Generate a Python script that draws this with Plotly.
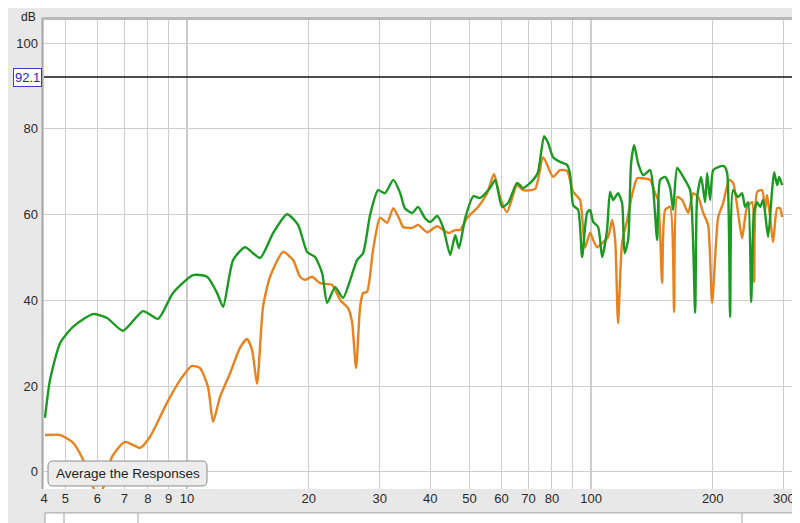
#Frequency response plot of two measurements (REW style)
#Values read off the original screenshot
import plotly.graph_objects as go

#Green measurement - frequency (Hz) and level (dB)
freq_green = [4.45, 4.58, 4.85, 5.22, 5.85, 6.34, 6.94, 7.78, 8.48, 9.23,
              10.35, 11.21, 11.87, 12.28, 13.0, 13.92, 15.16, 16.33, 17.68, 18.83,
              19.82, 20.74, 21.59, 22.22, 23.25, 24.33, 26.35, 27.27, 28.38, 29.7,
              30.9, 32.4, 33.7, 34.6, 36.1, 37.3, 38.8, 40.0, 41.6, 43.0,
              44.8, 46.1, 47.1, 48.8, 51.1, 53.1, 56.2, 57.9, 60.2, 62.3,
              65.6, 67.9, 71.9, 73.9, 76.5, 78.3, 80.5, 83.8, 87.2, 88.7,
              90.3, 92.9, 95.0, 97.7, 99.4, 101.2, 104.1, 106.5, 109.5, 111.4,
              113.4, 116.6, 119.3, 121.0, 123.5, 125.6, 127.8, 130.7, 134.5, 140.0,
              142.4, 145.7, 148.2, 152.5, 156.9, 159.6, 163.3, 169.0, 175.8, 180.9,
              183.0, 187.2, 191.5, 193.7, 197.0, 200.5, 206.3, 213.4, 217.1, 220.8,
              224.6, 231.1, 236.4, 240.5, 244.7, 249.0, 253.0, 257.6, 262.0, 266.5,
              274.2, 280.5, 283.8, 288.7, 292.0, 297.0]
spl_green = [12.6, 21.4, 30.0, 33.8, 36.8, 35.9, 32.9, 37.5, 35.7, 41.7,
             45.9, 45.5, 41.7, 38.5, 49.4, 52.4, 49.9, 55.7, 60.1, 57.6,
             51.3, 50.1, 46.4, 39.4, 43.1, 40.6, 49.4, 51.0, 59.9, 65.7,
             65.0, 68.1, 65.0, 61.5, 60.4, 61.8, 59.2, 58.3, 59.7, 57.1,
             50.6, 55.2, 52.2, 59.2, 64.3, 63.9, 66.2, 68.1, 61.8, 62.7,
             67.4, 66.2, 68.1, 69.9, 78.3, 76.7, 73.4, 72.3, 71.6, 69.5,
             62.2, 61.1, 50.1, 60.4, 61.1, 58.3, 57.1, 50.1, 56.4, 65.3,
             63.4, 65.0, 62.7, 51.0, 54.1, 72.0, 76.2, 72.0, 69.2, 70.4,
             66.2, 54.1, 68.1, 68.8, 66.2, 61.1, 70.9, 68.8, 65.7, 37.1,
             64.1, 68.8, 62.9, 69.7, 63.4, 70.4, 71.1, 71.3, 69.7, 36.1,
             65.7, 64.1, 65.0, 61.8, 62.9, 39.6, 60.4, 62.9, 61.8, 63.4,
             54.8, 65.7, 69.9, 66.9, 68.8, 66.9]

#Orange measurement
freq_orange = [4.45, 4.85, 5.22, 5.53, 5.75, 6.02, 6.27, 6.52, 7.02, 7.65,
               8.10, 8.92, 9.61, 10.29, 10.77, 11.27, 11.6, 12.07, 12.78, 13.53,
               14.08, 14.49, 14.9, 15.42, 16.05, 17.29, 18.30, 19.04, 19.6, 20.39,
               21.34, 22.86, 23.92, 25.03, 25.6, 26.2, 26.81, 27.27, 27.9, 28.86,
               30.04, 31.26, 32.4, 33.7, 34.25, 36.1, 37.3, 39.3, 41.6, 44.3,
               46.1, 47.4, 49.3, 52.5, 55.3, 57.5, 59.5, 61.9, 65.6, 67.9,
               72.7, 76.1, 80.5, 83.8, 87.2, 90.3, 93.9, 96.6, 99.4, 101.2,
               103.5, 107.1, 110.2, 112.7, 114.7, 116.6, 119.3, 122.8, 126.3, 130.0,
               133.7, 140.0, 144.0, 146.5, 149.9, 152.5, 156.9, 160.5, 163.3, 168.0,
               173.9, 178.9, 184.1, 189.4, 194.8, 199.3, 206.3, 212.2, 219.6, 224.6,
               231.1, 236.4, 243.3, 250.3, 253.2, 257.6, 265.0, 269.6, 272.7, 277.4,
               282.1, 288.7, 293.6, 297.0]
spl_orange = [8.6, 8.6, 6.8, 2.8, -1.5, -6.0, -2.5, 3.5, 7.0, 5.6,
              8.2, 16.1, 21.4, 24.7, 24.2, 19.8, 11.7, 17.5, 23.0, 29.0,
              31.0, 28.4, 20.5, 38.5, 45.5, 51.3, 49.4, 45.5, 44.8, 45.5,
              44.0, 43.6, 40.1, 38.2, 35.0, 24.2, 38.5, 41.7, 42.0, 51.7,
              59.3, 58.1, 61.5, 58.5, 57.1, 56.9, 57.6, 55.9, 57.3, 55.7,
              56.4, 56.4, 59.2, 61.8, 65.0, 69.5, 64.1, 60.6, 66.9, 65.7,
              66.0, 73.4, 68.8, 70.4, 70.2, 65.3, 63.4, 52.3, 55.8, 54.1,
              52.4, 53.6, 54.8, 58.7, 54.1, 34.7, 53.4, 58.7, 64.6, 68.5,
              68.5, 68.1, 65.0, 63.4, 44.1, 61.1, 61.8, 37.3, 64.1, 63.4,
              60.4, 65.0, 64.1, 60.4, 57.6, 39.4, 59.4, 62.7, 68.1, 67.4,
              60.4, 54.5, 61.8, 62.9, 44.3, 65.3, 65.7, 61.1, 64.6, 59.4,
              53.6, 61.5, 61.5, 59.4]

#Axis ticks
x_ticks = [4.43, 5, 6, 7, 8, 9, 10, 20, 30, 40, 50, 60, 70, 80, 100, 200, 300]
x_labels = ["4", "5", "6", "7", "8", "9", "10", "20", "30", "40", "50", "60",
            "70", "80", "100", "200", "300"]
y_ticks = [0, 20, 40, 60, 80, 100]
ref_level = 92.1

FONT = "Liberation Sans"

fig = go.Figure()
fig.add_trace(go.Scatter(x=freq_orange, y=spl_orange, mode="lines",
                         line=dict(color="#e8821e", width=2.4, shape="spline", smoothing=0.6)))
fig.add_trace(go.Scatter(x=freq_green, y=spl_green, mode="lines",
                         line=dict(color="#1b9a22", width=2.4, shape="spline", smoothing=0.6)))

#darker decade lines at 10 and 100
for f in [10, 100]:
    fig.add_shape(type="line", xref="x", yref="paper", x0=f, x1=f, y0=0, y1=1,
                  line=dict(color="#9a9a9a", width=1.2), layer="below")

#reference level line
fig.add_shape(type="line", xref="paper", yref="y", x0=0, x1=1, y0=ref_level, y1=ref_level,
              line=dict(color="#111111", width=1.5))
fig.add_annotation(xref="paper", yref="y", x=-0.002, y=ref_level, text="92.1",
                   showarrow=False, xanchor="right", yanchor="middle",
                   font=dict(family=FONT, size=13, color="#2424c8"),
                   bgcolor="white", bordercolor="#3a3ad0", borderwidth=1, borderpad=1)

#dB unit label
fig.add_annotation(xref="paper", yref="paper", x=-0.021, y=1.0064, text="dB",
                   showarrow=False, xanchor="center", yanchor="middle",
                   font=dict(family=FONT, size=12, color="#222222"))

#plot border shadow (top and left)
fig.add_shape(type="line", xref="paper", yref="paper", x0=0, x1=1, y0=1.003, y1=1.003,
              line=dict(color="#b8b8b8", width=3))
fig.add_shape(type="line", xref="paper", yref="paper", x0=-0.002, x1=-0.002, y0=0, y1=1.006,
              line=dict(color="#a8a8a8", width=2))

#"Average the Responses" button (rounded box)
bx0, bx1 = 0.0053, 0.2156
by0, by1 = 0.0064, 0.0597
rx, ry = 0.0066, 0.0107
button_path = (f"M {bx0+rx},{by0} L {bx1-rx},{by0} Q {bx1},{by0} {bx1},{by0+ry} "
               f"L {bx1},{by1-ry} Q {bx1},{by1} {bx1-rx},{by1} "
               f"L {bx0+rx},{by1} Q {bx0},{by1} {bx0},{by1-ry} "
               f"L {bx0},{by0+ry} Q {bx0},{by0} {bx0+rx},{by0} Z")
fig.add_shape(type="path", xref="paper", yref="paper", path=button_path,
              fillcolor="#ededed", line=dict(color="#8c8c8c", width=1))
fig.add_annotation(xref="paper", yref="paper", x=(bx0+bx1)/2, y=(by0+by1)/2,
                   xanchor="center", yanchor="middle",
                   text="Average the Responses", showarrow=False,
                   font=dict(family=FONT, size=13.5, color="#1e1e1e"))

#scrollbar under the axis labels
fig.add_shape(type="rect", xref="paper", yref="paper", x0=0.0013, x1=1.0, y0=-0.075, y1=-0.051,
              fillcolor="white", line=dict(color="#a0a0a0", width=1))
for px in [64, 138, 742]:
    fig.add_shape(type="line", xref="paper", yref="paper", x0=(px-44)/756, x1=(px-44)/756,
                  y0=-0.075, y1=-0.051, line=dict(color="#a0a0a0", width=1))

fig.update_xaxes(type="log", range=[0.646, 2.517],
                 tickmode="array", tickvals=x_ticks, ticktext=x_labels,
                 showgrid=True, gridcolor="#cfcfcf", gridwidth=1,
                 minor=dict(tickmode="array", tickvals=[90], showgrid=True,
                            gridcolor="#cfcfcf", gridwidth=1, ticks=""),
                 ticks="", zeroline=False, showline=False,
                 tickfont=dict(family=FONT, size=13, color="#2a2a2a"))
fig.update_yaxes(range=[-4.0, 105.4], tickmode="array", tickvals=y_ticks,
                 showgrid=True, gridcolor="#cfcfcf", gridwidth=1,
                 ticks="", zeroline=False, showline=False, ticklabelstandoff=5,
                 tickfont=dict(family=FONT, size=13, color="#2a2a2a"))

#the page body adds an 8px margin, so the figure is shrunk by that much
fig.update_layout(width=792, height=515, showlegend=False,
                  margin=dict(l=36, r=0, t=12, b=34),
                  paper_bgcolor="#e8e8e8", plot_bgcolor="white")

fig.write_html("out.html")
